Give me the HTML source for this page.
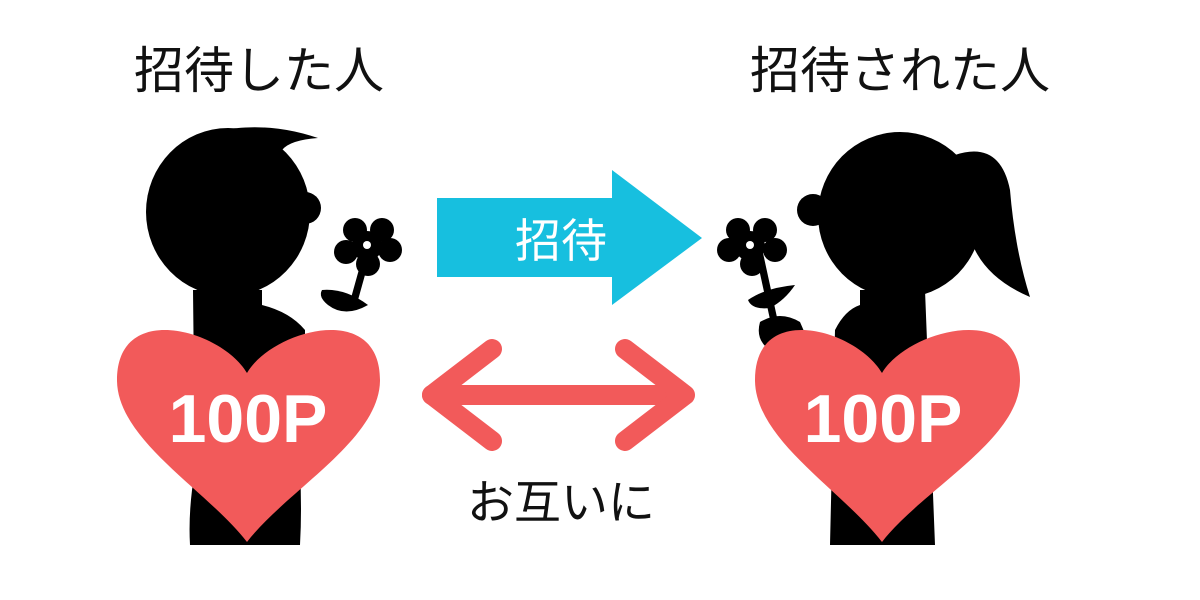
<!DOCTYPE html>
<html><head><meta charset="utf-8"><style>
html,body{margin:0;padding:0;background:#fff;}
svg{display:block}
</style></head><body>
<svg width="1200" height="600" viewBox="0 0 1200 600" xmlns="http://www.w3.org/2000/svg">
<rect width="1200" height="600" fill="#fff"/>
<g font-family="'Liberation Sans','Noto Sans CJK JP',sans-serif" fill="#111">
<text x="259" y="88" font-size="50" text-anchor="middle">招待した人</text>
<text x="900" y="88" font-size="50" text-anchor="middle">招待された人</text>
</g>

<!-- Left figure -->
<g fill="#000">
  <path d="M193 290 L262 290 L262 305 Q290 312 305 330 L305 470 L300 470 Q302 510 300 545 L190 545 Q188 510 195 470 Z"/>
  <ellipse cx="228" cy="212" rx="82" ry="84"/>
  <path d="M200 135 Q260 118 318 138 Q290 140 282 150 L260 160 Z"/>
  <circle cx="305" cy="208" r="16"/>
  <!-- flower -->
  <circle cx="355" cy="230" r="12"/><circle cx="382" cy="230" r="12"/>
  <circle cx="390" cy="250" r="12"/><circle cx="368" cy="264" r="12"/>
  <circle cx="346" cy="252" r="12"/><circle cx="367" cy="246" r="15"/>
  <path d="M363 255 L370 257 L358 300 L351 298 Z"/>
  <path d="M322 290 Q345 288 368 305 Q345 318 328 305 Q318 297 322 290 Z"/>
</g>
<circle cx="367" cy="245" r="4" fill="#fff"/>
<path d="M247 373 C222 330,117 300,117 380 C117 440,207 490,247 542 C287 490,380 440,380 380 C380 300,272 330,247 373 Z" fill="#f25a5a"/>
<text x="248" y="442" font-family="'Liberation Sans',sans-serif" font-weight="bold" font-size="68" fill="#fff" text-anchor="middle">100P</text>

<!-- Right figure -->
<g fill="#000">
  <path d="M860 290 L925 290 L935 545 L830 545 L835 330 Q845 310 860 305 Z"/>
  <path d="M760 322 Q780 310 800 322 L810 345 L770 350 Q755 340 760 322 Z"/>
  <ellipse cx="900" cy="215" rx="82" ry="83"/>
  <path d="M955 155 Q1000 140 1010 190 Q1015 250 1030 297 Q990 280 975 250 Q960 220 955 155 Z"/>
  <circle cx="813" cy="210" r="16"/>
  <!-- flower -->
  <circle cx="738" cy="230" r="12"/><circle cx="765" cy="230" r="12"/>
  <circle cx="775" cy="250" r="12"/><circle cx="752" cy="264" r="12"/>
  <circle cx="729" cy="250" r="12"/><circle cx="750" cy="246" r="15"/>
  <path d="M756 255 L763 253 L778 322 L771 324 Z"/>
  <path d="M795 285 Q785 300 770 308 Q752 310 748 300 Q765 288 795 285 Z"/>
</g>
<circle cx="750" cy="245" r="4" fill="#fff"/>
<path d="M882 373 C857 330,755 300,755 380 C755 440,842 490,882 542 C922 490,1020 440,1020 380 C1020 300,907 330,882 373 Z" fill="#f25a5a"/>
<text x="883" y="442" font-family="'Liberation Sans',sans-serif" font-weight="bold" font-size="68" fill="#fff" text-anchor="middle">100P</text>

<!-- Blue arrow -->
<path d="M437 198 L612 198 L612 170 L702 238 L612 305 L612 277 L437 277 Z" fill="#17bfdf"/>
<text x="561" y="257" font-family="'Liberation Sans','Noto Sans CJK JP',sans-serif" font-size="46" fill="#fff" text-anchor="middle">招待</text>

<!-- Red double arrow -->
<g stroke="#f25a5a" stroke-width="20" stroke-linecap="round" stroke-linejoin="round" fill="none">
  <line x1="432" y1="395" x2="683" y2="395"/>
  <polyline points="492,349 432,395 492,441"/>
  <polyline points="625,349 685,395 625,441"/>
</g>
<text x="561" y="519" font-family="'Liberation Sans','Noto Sans CJK JP',sans-serif" font-size="47" fill="#111" text-anchor="middle">お互いに</text>
</svg>
</body></html>
